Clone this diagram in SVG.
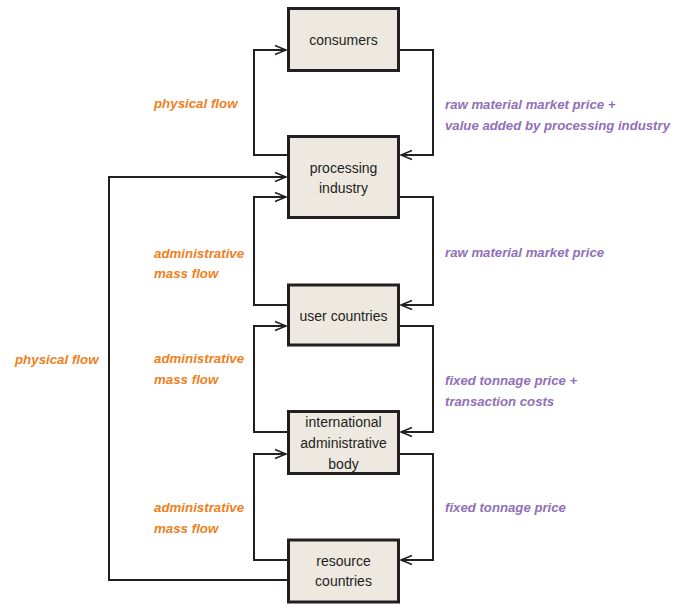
<svg xmlns="http://www.w3.org/2000/svg" width="686" height="604" viewBox="0 0 686 604">
<style>
.box{fill:#EDE9E0;stroke:#231F20;stroke-width:3}
.nt{font-family:"Liberation Sans",Arial,sans-serif;font-size:14px;fill:#231F20;text-anchor:middle}
.c{fill:none;stroke:#231F20;stroke-width:2}
.o{font-family:"Liberation Sans",Arial,sans-serif;font-size:13.3px;font-weight:bold;font-style:italic;fill:#F07F1E}
.p{font-family:"Liberation Sans",Arial,sans-serif;font-size:13.2px;font-weight:bold;font-style:italic;fill:#8F70B8}
</style>
<defs>
<marker id="ah" markerWidth="14" markerHeight="12" viewBox="-12 -6 14 12" refX="0" refY="0" orient="auto" markerUnits="userSpaceOnUse">
<path d="M-11,-4.5 L0,0 L-11,4.5" fill="none" stroke="#231F20" stroke-width="1.5"/>
</marker>
</defs>
<g id="connectors">
<path class="c" d="M288,155 H254 V50 H286" marker-end="url(#ah)"/>
<path class="c" d="M399,50 H433 V155 H401" marker-end="url(#ah)"/>
<path class="c" d="M288,305 H254 V197 H286" marker-end="url(#ah)"/>
<path class="c" d="M399,197 H433 V305 H401" marker-end="url(#ah)"/>
<path class="c" d="M288,432 H254 V326 H286" marker-end="url(#ah)"/>
<path class="c" d="M399,326 H433 V432 H401" marker-end="url(#ah)"/>
<path class="c" d="M288,560 H254 V454 H286" marker-end="url(#ah)"/>
<path class="c" d="M399,454 H433 V560 H401" marker-end="url(#ah)"/>
<path class="c" d="M288,580 H109 V177 H286" marker-end="url(#ah)"/>
</g>
<g id="consumers">
<rect class="box" x="288.5" y="8.5" width="110" height="62"/>
<text class="nt" x="343.5" y="45">consumers</text>
</g>
<g id="processing">
<rect class="box" x="288.5" y="136.5" width="110" height="81"/>
<text class="nt" x="343.5" y="173">processing</text>
<text class="nt" x="343.5" y="193">industry</text>
</g>
<g id="user">
<rect class="box" x="288.5" y="285" width="110" height="60"/>
<text class="nt" x="343.5" y="321">user countries</text>
</g>
<g id="international">
<rect class="box" x="288.5" y="411.5" width="110" height="62"/>
<text class="nt" x="343.5" y="427">international</text>
<text class="nt" x="343.5" y="448">administrative</text>
<text class="nt" x="343.5" y="469">body</text>
</g>
<g id="resource">
<rect class="box" x="288.5" y="540" width="110" height="62"/>
<text class="nt" x="343.5" y="566">resource</text>
<text class="nt" x="343.5" y="586">countries</text>
</g>
<g id="labels">
<text class="o" x="154" y="108">physical flow</text>
<text class="o" x="154" y="258">administrative</text>
<text class="o" x="154" y="278">mass flow</text>
<text class="o" x="154" y="363">administrative</text>
<text class="o" x="154" y="384">mass flow</text>
<text class="o" x="154" y="512">administrative</text>
<text class="o" x="154" y="533">mass flow</text>
<text class="o" x="15" y="364">physical flow</text>
<text class="p" x="445" y="109">raw material market price +</text>
<text class="p" x="445" y="130">value added by processing industry</text>
<text class="p" x="445" y="257">raw material market price</text>
<text class="p" x="445" y="385">fixed tonnage price +</text>
<text class="p" x="445" y="406">transaction costs</text>
<text class="p" x="445" y="512">fixed tonnage price</text>
</g>
</svg>
